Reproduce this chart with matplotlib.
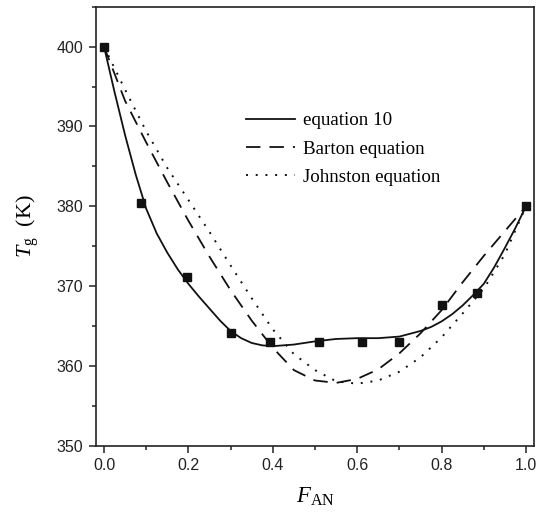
import numpy as np
import matplotlib
matplotlib.use('Agg')
import matplotlib.pyplot as plt
from matplotlib.ticker import MultipleLocator

plt.rcParams['mathtext.fontset'] = 'custom'
plt.rcParams['mathtext.rm'] = 'Liberation Serif'
plt.rcParams['mathtext.it'] = 'Liberation Serif:italic'

# measured points
f_an = [0.0, 0.087, 0.197, 0.301, 0.394, 0.509, 0.611, 0.699, 0.800, 0.883, 1.0]
tg = [400.0, 380.4, 371.2, 364.2, 363.0, 363.0, 363.0, 363.0, 367.7, 369.2, 380.0]

# equation 10 curve
x_eq10 = [0.0, 0.025, 0.05, 0.075, 0.1, 0.125, 0.15, 0.175, 0.2, 0.225, 0.25,
          0.275, 0.3, 0.325, 0.35, 0.375, 0.4, 0.45, 0.5, 0.55, 0.6, 0.65,
          0.7, 0.75, 0.775, 0.8, 0.825, 0.85, 0.875, 0.9, 0.925, 0.95, 0.975, 1.0]
eq10 = [400.0, 394.3, 388.9, 384.0, 379.7, 376.6, 374.2, 372.1, 370.3, 368.7, 367.2,
        365.7, 364.4, 363.5, 362.9, 362.6, 362.5, 362.7, 363.1, 363.4, 363.5, 363.5,
        363.7, 364.4, 364.9, 365.6, 366.5, 367.6, 368.9, 370.3, 372.4, 374.8, 377.3, 380.0]

# Barton and Johnston curves
x_curve = [0.0, 0.05, 0.1, 0.15, 0.2, 0.25, 0.3, 0.35, 0.4, 0.45, 0.5,
           0.55, 0.6, 0.65, 0.7, 0.75, 0.8, 0.85, 0.9, 0.95, 1.0]
barton = [400.0, 393.2, 388.0, 383.0, 378.2, 373.7, 369.5, 365.7, 362.3, 359.5, 358.2,
          357.9, 358.4, 359.6, 361.6, 364.1, 367.0, 370.5, 373.8, 376.9, 380.0]
johnston = [400.0, 394.6, 389.4, 384.8, 380.8, 376.8, 372.6, 368.5, 364.6, 361.5, 359.5,
            358.1, 357.8, 358.2, 359.3, 361.1, 363.6, 366.6, 369.7, 374.0, 380.0]

fig = plt.figure(figsize=(5.43, 5.14), dpi=100)
ax = fig.add_axes([0.1768, 0.1323, 0.8066, 0.8547])

l1, = ax.plot(x_eq10, eq10, color='#111111', lw=1.3, label='equation 10')
l2, = ax.plot(x_curve, barton, color='#111111', lw=1.3, dashes=(8, 5), label='Barton equation')
l3, = ax.plot(x_curve, johnston, color='#111111', lw=1.4, dashes=(1, 4), label='Johnston equation')
ax.plot(f_an, tg, 's', color='#111111', ms=5.6, zorder=5)

ax.set_xlim(-0.019, 1.019)
ax.set_ylim(350, 405)
ax.xaxis.set_minor_locator(MultipleLocator(0.1))
ax.yaxis.set_minor_locator(MultipleLocator(5))
ax.set_xticks([0.0, 0.2, 0.4, 0.6, 0.8, 1.0])
ax.set_xticklabels(['0.0', '0.2', '0.4', '0.6', '0.8', '1.0'])
ax.set_yticks([350, 360, 370, 380, 390, 400])

ax.tick_params(which='both', direction='out', top=False, right=False,
               colors='#222222', labelsize=11.5, width=1.1)
ax.tick_params(which='major', length=5, pad=4)
ax.tick_params(which='minor', length=3)
for lab in ax.get_xticklabels() + ax.get_yticklabels():
    lab.set_fontfamily('Liberation Sans')

for sp in ax.spines.values():
    sp.set_linewidth(1.2)
    sp.set_color('#222222')

ax.set_xlabel(r'$F_{\mathrm{AN}}$', fontsize=16.5, labelpad=8)
ax.set_ylabel(r'$T_{\mathrm{g}}$  (K)', fontsize=16, family='Liberation Serif', labelpad=11)

leg = ax.legend(handles=[l1, l2, l3], loc='upper left',
                bbox_to_anchor=(246 / 543, 1 - 112 / 514), bbox_transform=fig.transFigure,
                frameon=False, borderpad=0, borderaxespad=0, handlelength=2.55,
                handletextpad=0.42, labelspacing=0.58,
                prop={'family': 'Liberation Serif', 'size': 13.7})

fig.savefig('out.png', dpi=100)
